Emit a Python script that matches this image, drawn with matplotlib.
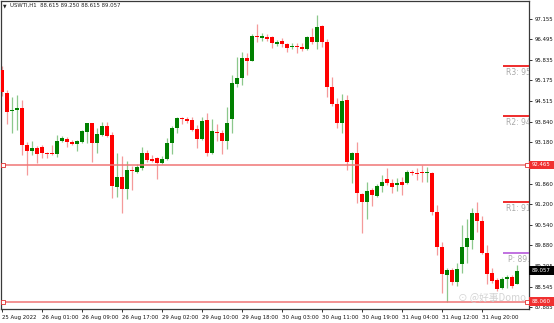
import matplotlib
matplotlib.use("Agg")
import matplotlib.pyplot as plt
import matplotlib.transforms as mtransforms
from matplotlib.patches import Rectangle

# ---------------- data ----------------
opens = [95.510, 94.761, 94.192, 94.224, 94.279, 93.099, 92.915, 92.993, 93.025, 92.851,
         92.851, 92.800, 93.227, 93.282, 93.205, 93.131, 93.205, 93.526, 93.796, 93.173,
         93.420, 93.710, 93.420, 91.739, 92.060, 91.684, 92.295, 92.240, 92.349, 92.851,
         92.639, 92.681, 92.510, 92.658, 93.153, 93.655, 93.957, 93.935, 93.902, 93.613,
         93.282, 93.902, 92.832, 93.526, 93.475, 93.227, 93.935, 95.060, 95.263, 95.886,
         95.809, 96.603, 96.549, 96.581, 96.581, 96.346, 96.443, 96.337, 96.240, 96.292,
         96.259, 96.176, 96.562, 96.411, 96.935, 96.401, 94.973, 94.417, 93.796, 94.546,
         92.616, 92.832, 91.523, 91.276, 91.652, 91.459, 91.780, 91.996, 91.886, 91.812,
         91.919, 91.886, 92.240, 92.208, 92.208, 92.189, 92.208, 90.954, 89.829, 88.919,
         89.079, 88.684, 89.272, 89.809, 90.044, 90.902, 90.665, 89.636, 88.993, 88.758,
         88.491, 88.780, 88.845, 88.615]
highs = [95.639, 94.867, 94.652, 94.706, 94.546, 93.205, 93.227, 93.066, 93.099, 92.883,
         93.099, 93.420, 93.388, 93.346, 93.259, 93.259, 93.581, 93.816, 93.816, 93.636,
         93.848, 93.848, 93.526, 92.851, 92.745, 92.594, 92.423, 92.488, 93.044, 92.938,
         92.777, 92.703, 92.745, 93.314, 93.710, 94.009, 94.009, 94.009, 93.989, 93.742,
         93.989, 94.118, 93.935, 93.774, 93.581, 94.330, 95.349, 95.919, 96.099, 96.047,
         96.658, 96.989, 96.690, 96.658, 96.613, 96.475, 96.529, 96.388, 96.388, 96.369,
         96.388, 96.603, 96.851, 97.279, 96.957, 96.497, 95.295, 94.600, 94.729, 94.706,
         92.883, 93.205, 91.565, 91.919, 91.706, 91.845, 92.134, 92.349, 91.996, 92.038,
         92.079, 92.295, 92.295, 92.369, 92.456, 92.382, 92.240, 91.169, 89.989, 89.134,
         89.134, 89.314, 90.526, 90.710, 91.063, 91.276, 90.816, 89.883, 89.134, 88.812,
         88.845, 88.919, 88.919, 89.250]
lows = [94.674, 93.774, 93.475, 93.581, 92.777, 92.134, 92.777, 92.520, 92.671, 92.671,
        92.777, 92.723, 93.205, 93.044, 93.099, 92.906, 93.173, 93.173, 92.562, 92.832,
        93.388, 93.366, 91.385, 91.436, 90.922, 91.362, 91.652, 92.189, 92.295, 92.562,
        92.562, 91.996, 92.478, 92.616, 92.809, 93.475, 93.774, 93.796, 93.549, 93.012,
        93.259, 92.755, 92.809, 93.227, 92.809, 92.960, 93.475, 94.954, 95.028, 95.349,
        95.800, 96.420, 96.452, 96.443, 96.227, 96.282, 96.259, 96.099, 96.176, 96.066,
        96.131, 96.153, 96.337, 96.176, 96.259, 94.652, 94.353, 93.655, 93.475, 92.295,
        91.867, 91.224, 90.259, 90.710, 91.137, 91.427, 91.597, 91.812, 91.565, 91.620,
        91.491, 91.845, 92.134, 91.973, 91.919, 91.919, 90.848, 89.562, 88.330, 88.060,
        88.597, 88.565, 88.993, 89.314, 89.745, 90.311, 89.594, 88.629, 88.652, 88.414,
        88.459, 88.491, 88.491, 88.615]
closes = [94.803, 94.169, 94.240, 94.279, 93.099, 92.906, 92.993, 92.809, 92.832, 92.809,
          92.809, 93.227, 93.314, 93.195, 93.121, 93.227, 93.549, 93.796, 93.173, 93.443,
          93.710, 93.388, 91.790, 92.060, 91.684, 92.295, 92.253, 92.382, 92.851, 92.616,
          92.594, 92.530, 92.658, 93.173, 93.655, 93.957, 93.925, 93.870, 93.581, 93.282,
          93.880, 92.832, 93.549, 93.475, 93.227, 93.816, 95.083, 95.263, 95.886, 95.800,
          96.603, 96.562, 96.603, 96.497, 96.369, 96.420, 96.337, 96.227, 96.282, 96.259,
          96.176, 96.562, 96.401, 96.902, 96.401, 94.973, 94.417, 93.796, 94.523, 92.562,
          92.832, 91.546, 91.276, 91.629, 91.491, 91.780, 91.919, 91.867, 91.758, 91.886,
          91.812, 92.240, 92.189, 92.166, 92.189, 92.240, 90.954, 89.829, 88.951, 89.079,
          88.684, 89.102, 89.829, 90.099, 90.902, 90.665, 89.636, 88.951, 88.735, 88.459,
          88.780, 88.864, 88.565, 89.057]

xtick_pos = [0, 8, 16, 24, 32, 40, 48, 56, 64, 72, 80, 88, 96]
xtick_labels = ["25 Aug 2022", "26 Aug 01:00", "26 Aug 09:00", "26 Aug 17:00",
                "29 Aug 02:00", "29 Aug 10:00", "29 Aug 18:00", "30 Aug 03:00",
                "30 Aug 11:00", "30 Aug 19:00", "31 Aug 04:00", "31 Aug 12:00",
                "31 Aug 20:00"]
ytick_vals = [97.155, 96.495, 95.835, 95.175, 94.515, 93.840, 93.180, 91.860,
              91.200, 90.540, 89.880, 89.205, 88.545, 87.885]

hlines = [92.465, 88.060]
pivot_names = ["R3", "R2", "R1", "P"]
pivot_vals = [95.648, 94.040, 91.275, 89.635]
pivot_texts = ["R3: 95", "R2: 94", "R1: 91", "P: 89."]
current_price = 89.057
header = "USWTI,H1  88.615 89.250 88.615 89.057"

# ---------------- figure ----------------
W, H = 554, 323
fig = plt.figure(figsize=(W / 100, H / 100), dpi=100)
ax = fig.add_axes([1 / W, 1 - 309 / H, 528 / W, 308 / H])
ax.set_xlim(-0.2, 105.4)
ax.set_ylim(87.825, 97.729)

bull_body, bear_body = "#008000", "#ff0000"
bull_wick, bear_wick = "#8cc88c", "#f59a9a"

n = len(opens)
for i in range(n):
    o, h, l, c = opens[i], highs[i], lows[i], closes[i]
    up = c >= o
    ax.vlines(i, l, h, color=bull_wick if up else bear_wick, lw=0.9, zorder=2)
    bot = min(o, c)
    hgt = max(abs(c - o), 0.035)
    ax.bar(i, hgt, bottom=bot, width=0.62, color=bull_body if up else bear_body,
           linewidth=0, zorder=3)

# horizontal full-width lines
for v in hlines:
    ax.axhline(v, color="#f07575", lw=1.1, zorder=4)
    ax.plot([0.004, 0.997], [v, v], ls="none", marker="s", ms=2.6, mfc="white",
            mec="#e03030", mew=0.6, transform=ax.get_yaxis_transform(), zorder=5,
            clip_on=False)

# pivot levels (short lines near right edge)
blend = mtransforms.blended_transform_factory(ax.transAxes, ax.transData)
for name, v, t in zip(pivot_names, pivot_vals, pivot_texts):
    col = "#bb66dd" if name == "P" else "#ee1a1a"
    x0 = (503 - 1) / 528
    ax.plot([x0, 1.0], [v, v], color=col, lw=1.3, transform=blend, zorder=5,
            solid_capstyle="butt")
    tx = (505.5 - 1) / 528 if name != "P" else (507.5 - 1) / 528
    ax.text(tx, v - 0.08, t, transform=blend, fontsize=5.5,
            color="#a8a8a8", va="top", ha="left", clip_on=True, zorder=6)

# axes styling
for side in ["top", "left", "right", "bottom"]:
    ax.spines[side].set_color("#3a3a3a")
    ax.spines[side].set_linewidth(0.9)

ax.yaxis.tick_right()
ax.set_yticks(ytick_vals)
ax.set_yticklabels([f"{v:.3f}" for v in ytick_vals])
ax.tick_params(axis="y", length=2.5, width=0.6, pad=1.2, labelsize=3.9,
               colors="#111111")
ax.set_xticks(xtick_pos)
ax.set_xticklabels(xtick_labels, ha="left")
ax.tick_params(axis="x", length=2.5, width=0.6, pad=1.5, labelsize=3.9,
               colors="#111111")

# right price boxes (box reaches the image edge)
def price_box(v, fc):
    ax.add_patch(Rectangle((1.0, v - 0.135), 25 / 528, 0.27, transform=blend,
                           facecolor=fc, edgecolor="none", clip_on=False, zorder=9))
    ax.text(1.0 + 3 / 528, v, f"{v:.3f}", transform=blend, fontsize=3.9,
            color="white", va="center", ha="left", clip_on=False, zorder=10)

for v in hlines:
    price_box(v, "#f03030")
price_box(current_price, "black")

# header
fig.text(3 / W, 1 - 5.7 / H, "\u25bc", fontsize=3.3, color="#222222",
         va="center", ha="left")
fig.text(10 / W, 1 - 5.7 / H, header, fontsize=3.85, color="#222222",
         va="center", ha="left")

# watermark
fig.text(458 / W, 1 - 297 / H, "\u2299 @好事Domo", fontsize=7, color="#cfcfcf",
         va="center", ha="left", family=["Noto Sans CJK SC", "DejaVu Sans"],
         alpha=0.9, zorder=1)

fig.savefig("out.png", dpi=100)
